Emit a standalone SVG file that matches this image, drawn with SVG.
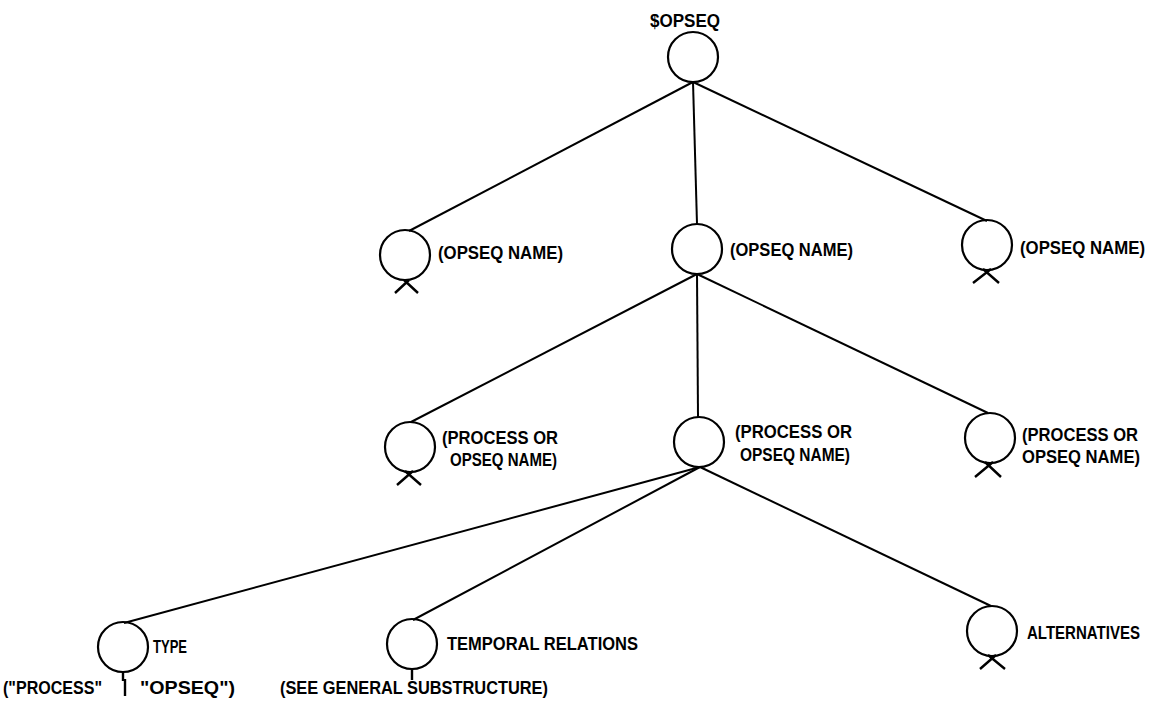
<svg xmlns="http://www.w3.org/2000/svg" width="1161" height="712" viewBox="0 0 1161 712">
  <style>
    .node { fill: none; stroke: #000; stroke-width: 2.2; }
    .edge { stroke: #000; stroke-width: 2; fill: none; }
    .mark { stroke: #000; stroke-width: 2.4; fill: none; stroke-linecap: butt; }
    .lbl { font-family: "Liberation Sans", Arial, sans-serif; font-weight: bold; font-size: 17.5px; fill: #000; }
  </style>
  <rect width="1161" height="712" fill="#fff"/>

  <!-- connectors -->
  <g id="connectors">
    <line class="edge" x1="693" y1="82" x2="409" y2="231"/>
    <line class="edge" x1="693" y1="82" x2="697" y2="224"/>
    <line class="edge" x1="693" y1="82" x2="987" y2="221"/>
    <line class="edge" x1="697" y1="274" x2="411" y2="422"/>
    <line class="edge" x1="697" y1="274" x2="698" y2="417"/>
    <line class="edge" x1="697" y1="274" x2="988" y2="413"/>
    <line class="edge" x1="700" y1="467" x2="124" y2="623"/>
    <line class="edge" x1="700" y1="467" x2="413" y2="620"/>
    <line class="edge" x1="700" y1="467" x2="991" y2="606"/>
  </g>

  <!-- root -->
  <g id="root">
    <text class="lbl" x="650" y="27" textLength="70" lengthAdjust="spacingAndGlyphs">$OPSEQ</text>
    <circle class="node" cx="693" cy="57" r="25"/>
  </g>

  <!-- first level -->
  <g id="opseq-left">
    <circle class="node" cx="405" cy="255" r="25"/>
    <path class="mark" d="M395 293 L409 280 M418 293 L404 280"/>
    <text class="lbl" x="438" y="259" textLength="125" lengthAdjust="spacingAndGlyphs">(OPSEQ NAME)</text>
  </g>
  <g id="opseq-mid">
    <circle class="node" cx="697" cy="249" r="25"/>
    <text class="lbl" x="730" y="256" textLength="123" lengthAdjust="spacingAndGlyphs">(OPSEQ NAME)</text>
  </g>
  <g id="opseq-right">
    <circle class="node" cx="987" cy="245" r="25"/>
    <path class="mark" d="M973 283 L991 269 M999 283 L983 269"/>
    <text class="lbl" x="1020" y="254" textLength="125" lengthAdjust="spacingAndGlyphs">(OPSEQ NAME)</text>
  </g>

  <!-- second level -->
  <g id="proc-left">
    <circle class="node" cx="410" cy="447" r="25"/>
    <path class="mark" d="M397 485 L413 471 M421 485 L405 471"/>
    <text class="lbl" x="442" y="444" textLength="116" lengthAdjust="spacingAndGlyphs">(PROCESS OR</text>
    <text class="lbl" x="450" y="466" textLength="107" lengthAdjust="spacingAndGlyphs">OPSEQ NAME)</text>
  </g>
  <g id="proc-mid">
    <circle class="node" cx="699" cy="442" r="25"/>
    <text class="lbl" x="735" y="438" textLength="117" lengthAdjust="spacingAndGlyphs">(PROCESS OR</text>
    <text class="lbl" x="740" y="461" textLength="110" lengthAdjust="spacingAndGlyphs">OPSEQ NAME)</text>
  </g>
  <g id="proc-right">
    <circle class="node" cx="990" cy="438" r="25"/>
    <path class="mark" d="M975 477 L993 462 M1001 477 L985 462"/>
    <text class="lbl" x="1022" y="441" textLength="116" lengthAdjust="spacingAndGlyphs">(PROCESS OR</text>
    <text class="lbl" x="1022" y="463" textLength="118" lengthAdjust="spacingAndGlyphs">OPSEQ NAME)</text>
  </g>

  <!-- third level -->
  <g id="type">
    <circle class="node" cx="123" cy="647" r="25"/>
    <line class="mark" x1="123" y1="672" x2="123" y2="681" stroke-width="3"/>
    <text class="lbl" x="153" y="653" textLength="34" lengthAdjust="spacingAndGlyphs">TYPE</text>
    <text class="lbl" x="3" y="694" textLength="99" lengthAdjust="spacingAndGlyphs">("PROCESS"</text>
    <line class="mark" x1="125" y1="679" x2="125" y2="696" stroke-width="2"/>
    <text class="lbl" x="140" y="694" textLength="95" lengthAdjust="spacingAndGlyphs">"OPSEQ")</text>
  </g>
  <g id="temporal">
    <circle class="node" cx="412" cy="644" r="25"/>
    <line class="mark" x1="412" y1="669" x2="412" y2="680" stroke-width="3"/>
    <text class="lbl" x="447" y="650" textLength="191" lengthAdjust="spacingAndGlyphs">TEMPORAL RELATIONS</text>
    <text class="lbl" x="280" y="694" textLength="268" lengthAdjust="spacingAndGlyphs">(SEE GENERAL SUBSTRUCTURE)</text>
  </g>
  <g id="alternatives">
    <circle class="node" cx="992" cy="631" r="25"/>
    <path class="mark" d="M980 669 L996 655 M1005 669 L988 655"/>
    <text class="lbl" x="1027" y="639" textLength="113" lengthAdjust="spacingAndGlyphs">ALTERNATIVES</text>
  </g>
</svg>
